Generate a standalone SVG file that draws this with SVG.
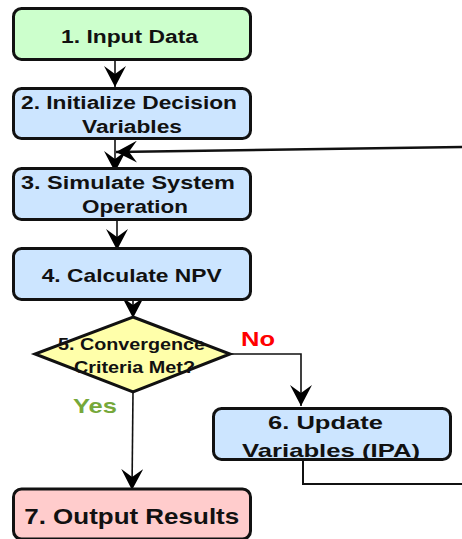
<svg xmlns="http://www.w3.org/2000/svg" width="462" height="539" viewBox="0 0 462 539">
<style>
.box{stroke:#111;stroke-width:3}
.t{font-family:"Liberation Sans",Arial,sans-serif;font-weight:bold;fill:#111;text-anchor:middle}
.c{fill:none;stroke:#111;stroke-width:1.6}
.lbl{font-family:"Liberation Sans",Arial,sans-serif;font-weight:bold;text-anchor:middle;font-size:21px}
</style>
<defs>
<marker id="ah" viewBox="0 0 21 22" refX="21" refY="11" markerWidth="21" markerHeight="22" orient="auto" markerUnits="userSpaceOnUse">
<path d="M0,0 L21,11 L0,22 L8,11 z" fill="#000"/>
</marker>
</defs>
<g id="connectors">
<path class="c" d="M115,61 L115,87" marker-end="url(#ah)"/>
<path class="c" d="M115,140 L115,172" marker-end="url(#ah)"/>
<path class="c" d="M462,147 L116,152" style="stroke-width:2.4" marker-end="url(#ah)"/>
<path class="c" d="M117,221 L117,250" marker-end="url(#ah)"/>
<path class="c" d="M133,301 L133,318" marker-end="url(#ah)"/>
<path class="c" d="M230,354 L301,354 L301,406" marker-end="url(#ah)"/>
<path class="c" d="M133,392 L132,490" marker-end="url(#ah)"/>
<path class="c" d="M303,461 L303,484 L462,484" style="stroke-width:2"/>
</g>
<g id="n1">
<rect class="box" x="13.5" y="8.5" width="237" height="51" rx="8" fill="#ccffcc"/>
<text class="t" x="129.5" y="43" font-size="17.5" textLength="137" lengthAdjust="spacingAndGlyphs">1. Input Data</text>
</g>
<g id="n2">
<rect class="box" x="13.5" y="88.5" width="237" height="50" rx="8" fill="#cce5ff"/>
<text class="t" x="129" y="109" font-size="17.5" textLength="216" lengthAdjust="spacingAndGlyphs">2. Initialize Decision</text>
<text class="t" x="132" y="133" font-size="17.5" textLength="100" lengthAdjust="spacingAndGlyphs">Variables</text>
</g>
<g id="n3">
<rect class="box" x="13.5" y="168.5" width="237" height="51" rx="8" fill="#cce5ff"/>
<text class="t" x="128" y="188.5" font-size="17.5" textLength="214" lengthAdjust="spacingAndGlyphs">3. Simulate System</text>
<text class="t" x="135" y="212.5" font-size="17.5" textLength="106" lengthAdjust="spacingAndGlyphs">Operation</text>
</g>
<g id="n4">
<rect class="box" x="13.5" y="248.5" width="237" height="51" rx="8" fill="#cce5ff"/>
<text class="t" x="131.7" y="281.5" font-size="19" textLength="180" lengthAdjust="spacingAndGlyphs">4. Calculate NPV</text>
</g>
<g id="n5">
<polygon class="box" points="133,317 230,354 133,392 35,354" fill="#ffffaa"/>
<text class="t" x="131.5" y="350" font-size="17" textLength="147" lengthAdjust="spacingAndGlyphs">5. Convergence</text>
<text class="t" x="134.5" y="372.5" font-size="17" textLength="121" lengthAdjust="spacingAndGlyphs">Criteria Met?</text>
</g>
<g id="n6">
<rect class="box" x="213.5" y="408.5" width="237" height="51" rx="8" fill="#cce5ff"/>
<text class="t" x="325.5" y="429" font-size="19" textLength="115" lengthAdjust="spacingAndGlyphs">6. Update</text>
<text class="t" x="331" y="456.5" font-size="19" textLength="178" lengthAdjust="spacingAndGlyphs">Variables (IPA)</text>
</g>
<g id="n7">
<rect class="box" x="13.5" y="489" width="237" height="50" rx="8" fill="#ffcccc"/>
<text class="t" x="131.7" y="523.5" font-size="21.5" textLength="215" lengthAdjust="spacingAndGlyphs">7. Output Results</text>
</g>
<g id="labels">
<text class="lbl" x="258" y="346" fill="#ff0000" textLength="34" lengthAdjust="spacingAndGlyphs">No</text>
<text class="lbl" x="95" y="413" fill="#76a83a" textLength="44" lengthAdjust="spacingAndGlyphs">Yes</text>
</g>
</svg>
